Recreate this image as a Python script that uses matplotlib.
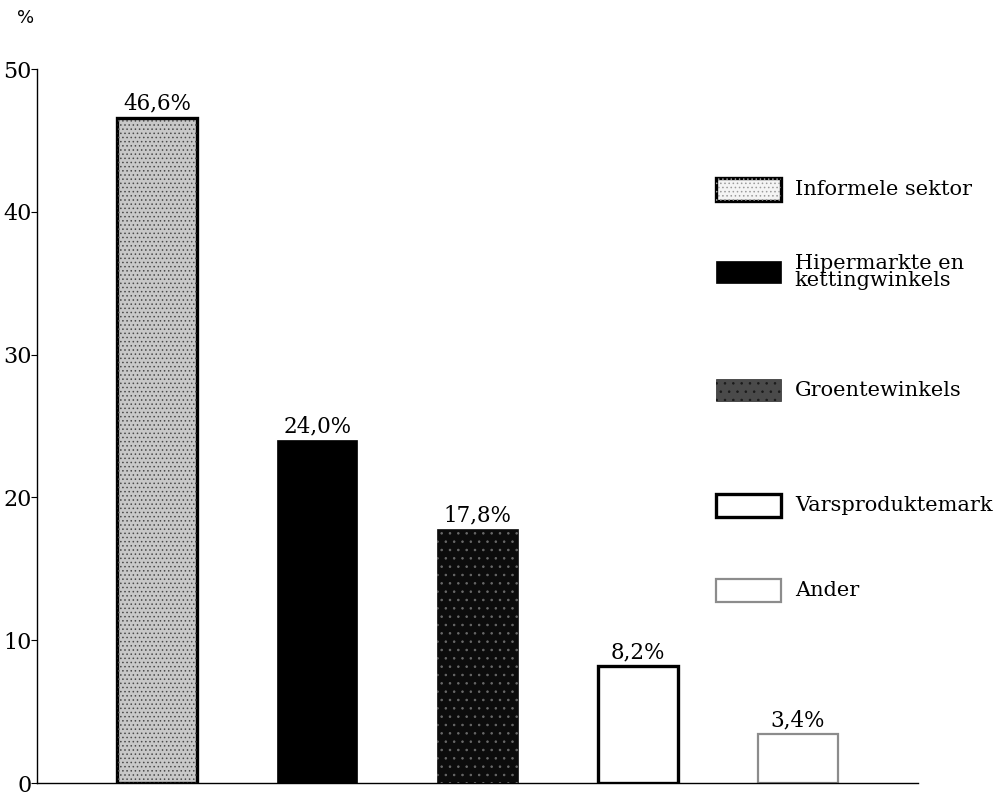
import matplotlib.pyplot as plt
from matplotlib.patches import Rectangle

categories = ["Informele sektor", "Hipermarkte en\nkettingwinkels", "Groentewinkels",
              "Varsproduktemark", "Ander"]
shares = [46.6, 24.0, 17.8, 8.2, 3.4]
value_labels = ["46,6%", "24,0%", "17,8%", "8,2%", "3,4%"]
y_ticks = [0, 10, 20, 30, 40, 50]

# fill, edge, edge width, hatch, hatch colour for each bar
styles = [
    ("#c8c8c8", "black", 2.4, "....", "#4a4a4a"),
    ("black", "black", 0.5, None, None),
    ("#0c0c0c", "#0c0c0c", 0.5, "..", "#6a6a6a"),
    ("white", "black", 2.4, None, None),
    ("white", "#8c8c8c", 1.6, None, None),
]

plt.rcParams["font.family"] = ["DejaVu Serif"]
plt.rcParams["hatch.linewidth"] = 0.6

fig = plt.figure(figsize=(9.96, 7.96), dpi=100)
ax = fig.add_axes([0.0371, 0.0163, 0.8846, 0.897])

x = list(range(len(shares)))
for i, (val, st) in enumerate(zip(shares, styles)):
    face, edge, lw, hatch, hcol = st
    ax.bar(x[i], val, width=0.5, color=face, edgecolor=edge, linewidth=lw, zorder=2)
    if hatch:
        ax.bar(x[i], val, width=0.5, fill=False, hatch=hatch, edgecolor=hcol,
               linewidth=0, zorder=3)
    ax.text(x[i], val + 0.2, value_labels[i], ha="center", va="bottom", fontsize=15.5)

ax.set_xlim(-0.75, 4.75)
ax.set_ylim(0, 50)
ax.set_yticks(y_ticks)
ax.set_yticklabels([str(t) for t in y_ticks], fontsize=16)
ax.set_xticks([])
ax.tick_params(axis="y", direction="out", length=4, width=0.8, pad=0)
for side in ["top", "right"]:
    ax.spines[side].set_visible(False)
ax.spines["left"].set_linewidth(1.0)
ax.spines["bottom"].set_linewidth(1.0)

fig.text(0.017, 0.978, "%", fontsize=13, family="DejaVu Sans", ha="left", va="center")

# legend drawn by hand so the uneven spacing can be kept
legend_y = [0.762, 0.658, 0.510, 0.365, 0.258]
box_w, box_h = 0.065, 0.028
for (face, edge, lw, hatch, hcol), label, ly in zip(styles, categories, legend_y):
    lface = "#f4f4f4" if face == "#c8c8c8" else face
    lface = "#4a4a4a" if face == "#0c0c0c" else lface
    fig.patches.append(Rectangle((0.719, ly - box_h / 2), box_w, box_h,
                                 transform=fig.transFigure, facecolor=lface,
                                 edgecolor=edge if face != "#0c0c0c" else "#2a2a2a",
                                 linewidth=lw))
    if hatch:
        fig.patches.append(Rectangle((0.719, ly - box_h / 2), box_w, box_h,
                                     transform=fig.transFigure, fill=False,
                                     hatch=hatch,
                                     edgecolor="#9a9a9a" if face != "#0c0c0c" else "#1a1a1a",
                                     linewidth=0))
    fig.text(0.798, ly, label, fontsize=15, ha="left", va="center", linespacing=0.9)

fig.savefig("out.png", dpi=100)
